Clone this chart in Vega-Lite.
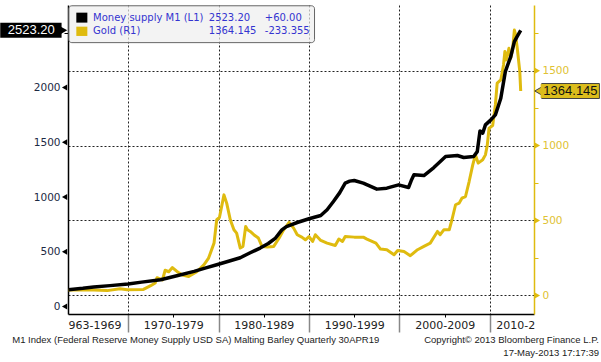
{
  "$schema": "https://vega.github.io/schema/vega-lite/v6.json",
  "width": 466,
  "height": 309,
  "autosize": {"type": "none"},
  "padding": {"left": 68, "top": 5, "right": 67, "bottom": 48},
  "background": "white",
  "config": {"view": {"stroke": null}},
  "datasets": {
    "m1": [
      {"year": 1963.4, "value": 152}, {"year": 1965, "value": 165}, {"year": 1966.2, "value": 177}, {"year": 1968, "value": 190},
      {"year": 1970, "value": 205}, {"year": 1971.5, "value": 222}, {"year": 1973.6, "value": 244}, {"year": 1975.5, "value": 282},
      {"year": 1977.3, "value": 320}, {"year": 1978.6, "value": 352}, {"year": 1979.8, "value": 381}, {"year": 1981.2, "value": 415},
      {"year": 1982.4, "value": 445}, {"year": 1983.5, "value": 490}, {"year": 1984.6, "value": 533}, {"year": 1985.5, "value": 575},
      {"year": 1986.3, "value": 625}, {"year": 1987, "value": 700}, {"year": 1987.5, "value": 730}, {"year": 1988.7, "value": 767},
      {"year": 1990, "value": 801}, {"year": 1991.3, "value": 831}, {"year": 1992, "value": 883}, {"year": 1992.7, "value": 959},
      {"year": 1993.4, "value": 1040}, {"year": 1994, "value": 1127}, {"year": 1994.5, "value": 1145}, {"year": 1995, "value": 1151},
      {"year": 1996, "value": 1127}, {"year": 1997.5, "value": 1072}, {"year": 1998.6, "value": 1081}, {"year": 1999.9, "value": 1111},
      {"year": 2001, "value": 1087}, {"year": 2001.3, "value": 1150}, {"year": 2001.6, "value": 1203}, {"year": 2002.7, "value": 1196},
      {"year": 2003.8, "value": 1269}, {"year": 2005.1, "value": 1370}, {"year": 2006.4, "value": 1379}, {"year": 2007.1, "value": 1361},
      {"year": 2008.2, "value": 1370}, {"year": 2008.6, "value": 1415}, {"year": 2008.9, "value": 1604}, {"year": 2009.2, "value": 1583},
      {"year": 2009.5, "value": 1659}, {"year": 2010.1, "value": 1705}, {"year": 2010.6, "value": 1751}, {"year": 2011.2, "value": 1903},
      {"year": 2011.7, "value": 2146}, {"year": 2012.3, "value": 2283}, {"year": 2012.7, "value": 2420}, {"year": 2013.0, "value": 2466},
      {"year": 2013.4, "value": 2523.2}
    ],
    "gold": [
      {"year": 1963.4, "value": 36}, {"year": 1966.2, "value": 36}, {"year": 1967.7, "value": 32}, {"year": 1969.1, "value": 45},
      {"year": 1969.9, "value": 38}, {"year": 1971.7, "value": 40}, {"year": 1972.5, "value": 65}, {"year": 1973.0, "value": 83},
      {"year": 1973.2, "value": 118}, {"year": 1973.8, "value": 103}, {"year": 1974.1, "value": 168}, {"year": 1974.5, "value": 158},
      {"year": 1974.9, "value": 186}, {"year": 1975.4, "value": 160}, {"year": 1976.0, "value": 136}, {"year": 1976.7, "value": 126},
      {"year": 1977.6, "value": 158}, {"year": 1978.4, "value": 205}, {"year": 1978.9, "value": 249}, {"year": 1979.5, "value": 349},
      {"year": 1979.8, "value": 505}, {"year": 1980.1, "value": 520}, {"year": 1980.6, "value": 671}, {"year": 1980.9, "value": 616},
      {"year": 1981.3, "value": 505}, {"year": 1981.7, "value": 438}, {"year": 1982.0, "value": 416}, {"year": 1982.4, "value": 316},
      {"year": 1982.7, "value": 327}, {"year": 1983.0, "value": 460}, {"year": 1983.2, "value": 438}, {"year": 1983.5, "value": 427},
      {"year": 1983.9, "value": 405}, {"year": 1984.4, "value": 383}, {"year": 1984.8, "value": 327}, {"year": 1985.4, "value": 323},
      {"year": 1986.1, "value": 327}, {"year": 1986.7, "value": 383}, {"year": 1987.2, "value": 438}, {"year": 1987.8, "value": 487},
      {"year": 1988.3, "value": 449}, {"year": 1988.7, "value": 405}, {"year": 1989.2, "value": 389}, {"year": 1989.6, "value": 371},
      {"year": 1990.0, "value": 393}, {"year": 1990.4, "value": 360}, {"year": 1990.7, "value": 405}, {"year": 1991.3, "value": 367},
      {"year": 1992.0, "value": 349}, {"year": 1992.9, "value": 333}, {"year": 1993.3, "value": 376}, {"year": 1993.7, "value": 360},
      {"year": 1994.0, "value": 393}, {"year": 1995.0, "value": 389}, {"year": 1996.0, "value": 389}, {"year": 1996.4, "value": 376},
      {"year": 1997.4, "value": 349}, {"year": 1997.9, "value": 309}, {"year": 1998.6, "value": 305}, {"year": 1999.4, "value": 271},
      {"year": 1999.8, "value": 300}, {"year": 2000.5, "value": 293}, {"year": 2001.2, "value": 265}, {"year": 2002.0, "value": 305},
      {"year": 2002.7, "value": 327}, {"year": 2003.4, "value": 349}, {"year": 2004.2, "value": 427}, {"year": 2004.5, "value": 405},
      {"year": 2004.9, "value": 438}, {"year": 2005.5, "value": 438}, {"year": 2005.8, "value": 505}, {"year": 2006.2, "value": 605},
      {"year": 2006.6, "value": 616}, {"year": 2006.9, "value": 649}, {"year": 2007.3, "value": 660}, {"year": 2007.7, "value": 760},
      {"year": 2008.1, "value": 871}, {"year": 2008.4, "value": 938}, {"year": 2008.7, "value": 883}, {"year": 2009.2, "value": 905},
      {"year": 2009.5, "value": 938}, {"year": 2009.7, "value": 1000}, {"year": 2009.9, "value": 1116}, {"year": 2010.3, "value": 1133},
      {"year": 2010.6, "value": 1271}, {"year": 2010.8, "value": 1416}, {"year": 2011.2, "value": 1438}, {"year": 2011.5, "value": 1538},
      {"year": 2011.65, "value": 1627}, {"year": 2011.8, "value": 1571}, {"year": 2012.1, "value": 1649}, {"year": 2012.3, "value": 1583},
      {"year": 2012.5, "value": 1638}, {"year": 2012.7, "value": 1771}, {"year": 2012.8, "value": 1749}, {"year": 2013.0, "value": 1660},
      {"year": 2013.1, "value": 1605}, {"year": 2013.3, "value": 1493}, {"year": 2013.4, "value": 1364.145}
    ],
    "leftTicks": [{"v": 0}, {"v": 500}, {"v": 1000}, {"v": 1500}, {"v": 2000}],
    "rightTicks": [{"v": 0}, {"v": 500}, {"v": 1000}, {"v": 1500}]
  },
  "layer": [
    {
      "layer": [
        {
          "data": {"name": "gold"},
          "mark": {"type": "line", "color": "#dfbb0f", "strokeWidth": 3, "strokeJoin": "round"},
          "encoding": {
            "x": {"field": "year", "type": "quantitative", "scale": {"domain": [1963.36, 2014.87], "nice": false, "zero": false}, "axis": null},
            "y": {
              "field": "value", "type": "quantitative",
              "scale": {"domain": [-124, 1938], "nice": false, "zero": false},
              "axis": {
                "orient": "right", "title": null, "format": "d",
                "values": [0, 250, 500, 750, 1000, 1250, 1500, 1750],
                "labelExpr": "datum.value % 500 == 0 ? datum.label : ''",
                "domainColor": "#dfbb0f", "domainWidth": 1.5,
                "tickColor": "#dfbb0f",
                "tickSize": 4,
                "tickOpacity": {"condition": {"test": "datum.value % 500 == 0", "value": 0}, "value": 1},
                "grid": true, "gridColor": "#222", "gridDash": [2, 2], "gridWidth": 1,
                "gridOpacity": {"condition": {"test": "datum.value % 500 == 0", "value": 1}, "value": 0},
                "labelFont": "DejaVu Sans", "labelFontSize": 10.5, "labelColor": "#e0c232", "labelPadding": 4
              }
            }
          }
        },
        {
          "data": {"name": "rightTicks"},
          "mark": {"type": "point", "shape": "triangle-right", "filled": true, "fill": "#dfbb0f", "size": 36, "opacity": 1},
          "encoding": {
            "x": {"datum": 2015.25, "axis": null},
            "y": {"field": "v", "type": "quantitative"}
          }
        },
        {
          "data": {"values": [{}]},
          "mark": {"type": "rect", "fill": "#dcbd1c", "stroke": "#444", "strokeWidth": 1},
          "encoding": {
            "x": {"datum": 2015.72, "axis": null}, "x2": {"datum": 2022.1},
            "y": {"datum": 1314}, "y2": {"datum": 1414}
          }
        },
        {
          "data": {"values": [{}]},
          "mark": {"type": "point", "shape": "triangle-left", "filled": true, "fill": "#dcbd1c", "stroke": "#444", "strokeWidth": 1, "size": 70, "opacity": 1},
          "encoding": {
            "x": {"datum": 2015.35, "axis": null},
            "y": {"datum": 1364.145}
          }
        },
        {
          "data": {"values": [{}]},
          "mark": {"type": "rect", "fill": "#dcbd1c"},
          "encoding": {
            "x": {"datum": 2015.6, "axis": null}, "x2": {"datum": 2016.2},
            "y": {"datum": 1318}, "y2": {"datum": 1410}
          }
        },
        {
          "data": {"values": [{}]},
          "mark": {"type": "text", "text": "1364.145", "font": "Liberation Sans", "fontSize": 13, "color": "#111", "align": "center", "baseline": "middle"},
          "encoding": {
            "x": {"datum": 2018.9, "axis": null},
            "y": {"datum": 1364.145}
          }
        }
      ]
    },
    {
      "layer": [
        {
          "data": {"values": [{}]},
          "mark": {"type": "rect", "fill": "#eeeeee", "fillOpacity": 0.7, "stroke": "#666", "strokeWidth": 1, "cornerRadius": 3},
          "encoding": {
            "x": {"datum": 1963.45}, "x2": {"datum": 1990.61},
            "y": {"datum": 2748}, "y2": {"datum": 2411}
          }
        },
        {
          "data": {"name": "m1"},
          "mark": {"type": "line", "color": "#000000", "strokeWidth": 3.5, "strokeJoin": "round"},
          "encoding": {
            "x": {
              "field": "year", "type": "quantitative",
              "scale": {"domain": [1963.36, 2014.87], "nice": false, "zero": false},
              "axis": {
                "title": null,
                "values": [1966.3, 1970, 1975, 1980, 1985, 1990, 1995, 2000, 2005, 2010, 2012.8],
                "labelExpr": "datum.value == 1966.3 ? '963-1969' : datum.value == 1975 ? '1970-1979' : datum.value == 1985 ? '1980-1989' : datum.value == 1995 ? '1990-1999' : datum.value == 2005 ? '2000-2009' : datum.value == 2012.8 ? '2010-2' : ''",
                "domainColor": "#000", "domainWidth": 1.5,
                "tickColor": {"condition": {"test": "datum.value % 10 == 0", "value": "#888"}, "value": "#000"},
                "tickSize": {"condition": {"test": "datum.value % 10 == 0", "value": 18}, "value": 3},
                "tickWidth": {"condition": {"test": "datum.value % 10 == 0", "value": 1.5}, "value": 1},
                "tickOpacity": {"condition": {"test": "datum.value == 1966.3 || datum.value == 2012.8", "value": 0}, "value": 1},
                "grid": true, "gridColor": "#222", "gridDash": [2, 2], "gridWidth": 1,
                "gridOpacity": {"condition": {"test": "datum.value % 10 == 0", "value": 1}, "value": 0},
                "labelFont": "DejaVu Sans", "labelFontSize": 11, "labelColor": "#222", "labelPadding": 2,
                "labelFlush": false, "labelOverlap": false, "labelBound": false
              }
            },
            "y": {
              "field": "value", "type": "quantitative",
              "scale": {"domain": [-69.4, 2755], "nice": false, "zero": false},
              "axis": {
                "orient": "left", "title": null, "format": "d",
                "values": [0, 250, 500, 750, 1000, 1250, 1500, 1750, 2000, 2250, 2500],
                "labelExpr": "datum.value % 500 == 0 && datum.value <= 2000 ? datum.label : ''",
                "domainColor": "#000", "domainWidth": 1.5,
                "tickColor": "#000",
                "tickSize": 4,
                "tickOpacity": {"condition": {"test": "datum.value % 500 == 0 && datum.value <= 2000", "value": 0}, "value": 1},
                "grid": false,
                "labelFont": "DejaVu Sans", "labelFontSize": 10.5, "labelColor": "#1c2a44", "labelPadding": 4
              }
            }
          }
        },
        {
          "data": {"name": "leftTicks"},
          "mark": {"type": "point", "shape": "triangle-left", "filled": true, "fill": "#000", "size": 36, "opacity": 1},
          "encoding": {
            "x": {"datum": 1962.98},
            "y": {"field": "v", "type": "quantitative"}
          }
        },
        {
          "data": {"values": [{}]},
          "mark": {"type": "rect", "fill": "#000"},
          "encoding": {
            "x": {"datum": 1964.28}, "x2": {"datum": 1965.5},
            "y": {"datum": 2685}, "y2": {"datum": 2594}
          }
        },
        {
          "data": {"values": [{}]},
          "mark": {"type": "rect", "fill": "#dfbb0f"},
          "encoding": {
            "x": {"datum": 1964.28}, "x2": {"datum": 1965.5},
            "y": {"datum": 2557}, "y2": {"datum": 2472}
          }
        },
        {
          "data": {"values": [{}]},
          "mark": {"type": "text", "text": "Money supply M1 (L1)", "font": "DejaVu Sans", "fontSize": 10, "color": "#3434d0", "align": "left", "baseline": "middle"},
          "encoding": {"x": {"datum": 1966.13}, "y": {"datum": 2634}}
        },
        {
          "data": {"values": [{}]},
          "mark": {"type": "text", "text": "2523.20", "font": "DejaVu Sans", "fontSize": 10, "color": "#3434d0", "align": "left", "baseline": "middle"},
          "encoding": {"x": {"datum": 1978.92}, "y": {"datum": 2634}}
        },
        {
          "data": {"values": [{}]},
          "mark": {"type": "text", "text": "+60.00", "font": "DejaVu Sans", "fontSize": 10, "color": "#3434d0", "align": "left", "baseline": "middle"},
          "encoding": {"x": {"datum": 1985.11}, "y": {"datum": 2634}}
        },
        {
          "data": {"values": [{}]},
          "mark": {"type": "text", "text": "Gold (R1)", "font": "DejaVu Sans", "fontSize": 10, "color": "#3434d0", "align": "left", "baseline": "middle"},
          "encoding": {"x": {"datum": 1966.13}, "y": {"datum": 2516}}
        },
        {
          "data": {"values": [{}]},
          "mark": {"type": "text", "text": "1364.145", "font": "DejaVu Sans", "fontSize": 10, "color": "#3434d0", "align": "left", "baseline": "middle"},
          "encoding": {"x": {"datum": 1978.92}, "y": {"datum": 2516}}
        },
        {
          "data": {"values": [{}]},
          "mark": {"type": "text", "text": "-233.355", "font": "DejaVu Sans", "fontSize": 10, "color": "#3434d0", "align": "left", "baseline": "middle"},
          "encoding": {"x": {"datum": 1985.11}, "y": {"datum": 2516}}
        },
        {
          "data": {"values": [{}]},
          "mark": {"type": "rect", "fill": "#000"},
          "encoding": {
            "x": {"datum": 1955.87}, "x2": {"datum": 1962.65},
            "y": {"datum": 2455}, "y2": {"datum": 2592}
          }
        },
        {
          "data": {"values": [{}]},
          "mark": {"type": "point", "shape": "triangle-right", "filled": true, "fill": "#000", "size": 80, "opacity": 1},
          "encoding": {"x": {"datum": 1962.85}, "y": {"datum": 2523.2}}
        },
        {
          "data": {"values": [{}]},
          "mark": {"type": "text", "text": "2523.20", "font": "Liberation Sans", "fontSize": 13, "color": "#ffffff", "align": "center", "baseline": "middle"},
          "encoding": {"x": {"datum": 1959.3}, "y": {"datum": 2523.2}}
        },
        {
          "data": {"values": [{}]},
          "mark": {"type": "text", "text": "M1 Index (Federal Reserve Money Supply USD SA) Malting Barley  Quarterly 30APR19", "font": "Liberation Sans", "fontSize": 9.5, "color": "#222", "align": "left", "baseline": "middle"},
          "encoding": {"x": {"datum": 1957.2}, "y": {"datum": -304}}
        },
        {
          "data": {"values": [{}]},
          "mark": {"type": "text", "text": "Copyright\u00a9 2013 Bloomberg Finance L.P.", "font": "Liberation Sans", "fontSize": 9.5, "color": "#222", "align": "right", "baseline": "middle"},
          "encoding": {"x": {"datum": 2022.05}, "y": {"datum": -304}}
        },
        {
          "data": {"values": [{}]},
          "mark": {"type": "text", "text": "17-May-2013 17:17:39", "font": "Liberation Sans", "fontSize": 9.5, "color": "#222", "align": "right", "baseline": "middle"},
          "encoding": {"x": {"datum": 2022.05}, "y": {"datum": -423}}
        }
      ]
    }
  ],
  "resolve": {"scale": {"y": "independent"}, "axis": {"x": "independent", "y": "independent"}}
}
